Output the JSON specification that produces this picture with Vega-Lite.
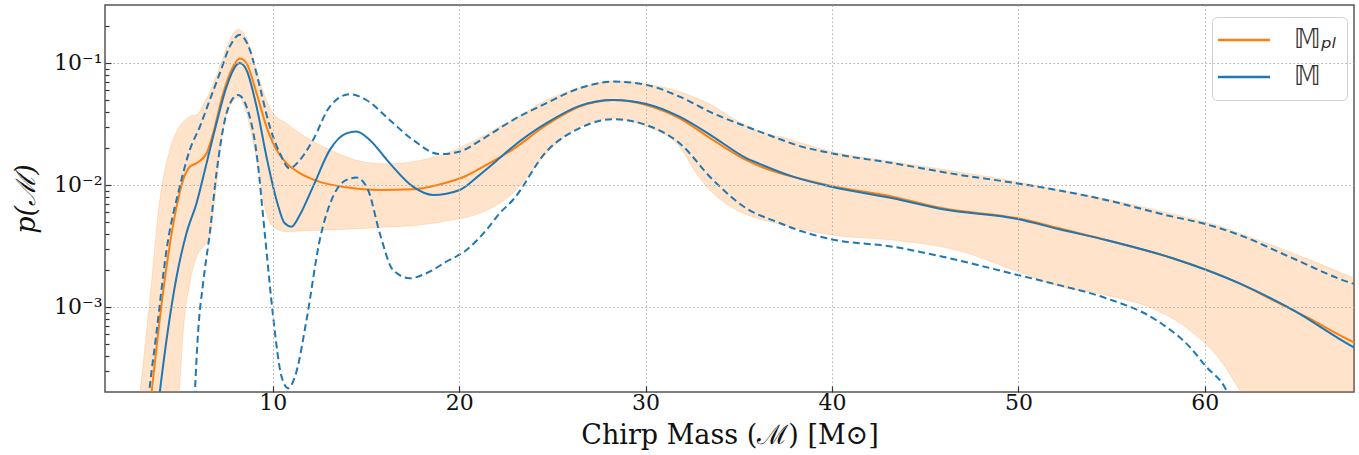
{
  "$schema": "https://vega.github.io/schema/vega-lite/v6.json",
  "width": 1249,
  "height": 387,
  "autosize": {"type": "none"},
  "padding": {"left": 105, "top": 5, "right": 5, "bottom": 63},
  "background": "white",
  "config": {
    "view": {"stroke": "#555555", "strokeWidth": 1.5},
    "font": "DejaVu Serif",
    "axis": {
      "domain": false,
      "grid": true,
      "gridColor": "#b0b0b0",
      "gridDash": [1.5, 2.5],
      "gridWidth": 1,
      "tickColor": "#333333",
      "labelFont": "DejaVu Serif",
      "labelFontSize": 22,
      "labelColor": "#111111",
      "titleFont": "DejaVu Serif",
      "titleFontWeight": "normal",
      "titleColor": "#111111"
    }
  },
  "datasets": {
    "band": [
      {"x": 2.65, "lo": 1e-5, "hi": 1.19e-4},
      {"x": 2.87, "lo": 1e-5, "hi": 2.01e-4},
      {"x": 3.40, "lo": 2e-5, "hi": 1.14e-3},
      {"x": 3.94, "lo": 4e-5, "hi": 7.53e-3},
      {"x": 4.48, "lo": 8e-5, "hi": 1.94e-2},
      {"x": 4.98, "lo": 2.01e-4, "hi": 2.99e-2},
      {"x": 5.19, "lo": 6.12e-4, "hi": 3.28e-2},
      {"x": 5.55, "lo": 1.56e-3, "hi": 3.63e-2},
      {"x": 5.99, "lo": 2.75e-3, "hi": 3.82e-2},
      {"x": 6.26, "lo": 3.12e-3, "hi": 4.53e-2},
      {"x": 6.62, "lo": 3.66e-3, "hi": 5.78e-2},
      {"x": 6.89, "lo": 7.53e-3, "hi": 7.26e-2},
      {"x": 7.25, "lo": 2.34e-2, "hi": 0.102},
      {"x": 7.69, "lo": 4.39e-2, "hi": 0.155},
      {"x": 8.19, "lo": 5.26e-2, "hi": 0.189},
      {"x": 8.59, "lo": 3.87e-2, "hi": 0.160},
      {"x": 9.13, "lo": 1.60e-2, "hi": 8.76e-2},
      {"x": 9.66, "lo": 5.86e-3, "hi": 4.97e-2},
      {"x": 10.02, "lo": 4.55e-3, "hi": 3.87e-2},
      {"x": 10.73, "lo": 4.14e-3, "hi": 3.21e-2},
      {"x": 11.45, "lo": 4.20e-3, "hi": 2.65e-2},
      {"x": 13.06, "lo": 4.28e-3, "hi": 1.94e-2},
      {"x": 14.84, "lo": 4.40e-3, "hi": 1.55e-2},
      {"x": 16.10, "lo": 4.53e-3, "hi": 1.49e-2},
      {"x": 17.52, "lo": 4.64e-3, "hi": 1.55e-2},
      {"x": 19.31, "lo": 5.07e-3, "hi": 1.82e-2},
      {"x": 21.10, "lo": 5.86e-3, "hi": 2.43e-2},
      {"x": 22.17, "lo": 7.08e-3, "hi": 3.01e-2},
      {"x": 22.88, "lo": 8.55e-3, "hi": 3.41e-2},
      {"x": 24.68, "lo": 1.82e-2, "hi": 4.97e-2},
      {"x": 26.46, "lo": 3.01e-2, "hi": 6.24e-2},
      {"x": 28.25, "lo": 3.52e-2, "hi": 7.12e-2},
      {"x": 30.04, "lo": 3.01e-2, "hi": 6.73e-2},
      {"x": 31.82, "lo": 2.06e-2, "hi": 5.82e-2},
      {"x": 32.72, "lo": 1.25e-2, "hi": 5.16e-2},
      {"x": 33.61, "lo": 8.55e-3, "hi": 4.45e-2},
      {"x": 34.68, "lo": 6.48e-3, "hi": 3.52e-2},
      {"x": 36.11, "lo": 5.26e-3, "hi": 2.74e-2},
      {"x": 37.18, "lo": 4.79e-3, "hi": 2.49e-2},
      {"x": 39.96, "lo": 3.89e-3, "hi": 1.88e-2},
      {"x": 43.26, "lo": 3.54e-3, "hi": 1.55e-2},
      {"x": 46.84, "lo": 2.88e-3, "hi": 1.28e-2},
      {"x": 49.96, "lo": 1.95e-3, "hi": 1.06e-2},
      {"x": 52.19, "lo": 1.47e-3, "hi": 9.10e-3},
      {"x": 54.70, "lo": 1.25e-3, "hi": 7.68e-3},
      {"x": 57.38, "lo": 9.45e-4, "hi": 6.24e-3},
      {"x": 59.17, "lo": 6.48e-4, "hi": 5.37e-3},
      {"x": 60.95, "lo": 3.46e-4, "hi": 4.53e-3},
      {"x": 61.86, "lo": 2.09e-4, "hi": 4.02e-3},
      {"x": 64.00, "lo": 6.7e-5, "hi": 3.05e-3},
      {"x": 68.02, "lo": 3e-5, "hi": 1.72e-3}
    ],
    "lines": [
      {"s": "𝕄ₚₗ", "x": 3.39, "y": 1.43e-4},
      {"s": "𝕄ₚₗ", "x": 3.50, "y": 2.01e-4},
      {"s": "𝕄ₚₗ", "x": 3.85, "y": 6.12e-4},
      {"s": "𝕄ₚₗ", "x": 4.30, "y": 2.14e-3},
      {"s": "𝕄ₚₗ", "x": 4.84, "y": 6.64e-3},
      {"s": "𝕄ₚₗ", "x": 5.19, "y": 1.10e-2},
      {"s": "𝕄ₚₗ", "x": 5.55, "y": 1.41e-2},
      {"s": "𝕄ₚₗ", "x": 5.91, "y": 1.51e-2},
      {"s": "𝕄ₚₗ", "x": 6.45, "y": 1.82e-2},
      {"s": "𝕄ₚₗ", "x": 6.80, "y": 2.65e-2},
      {"s": "𝕄ₚₗ", "x": 7.34, "y": 5.65e-2},
      {"s": "𝕄ₚₗ", "x": 7.87, "y": 9.33e-2},
      {"s": "𝕄ₚₗ", "x": 8.23, "y": 0.109},
      {"s": "𝕄ₚₗ", "x": 8.59, "y": 0.0995},
      {"s": "𝕄ₚₗ", "x": 9.13, "y": 5.65e-2},
      {"s": "𝕄ₚₗ", "x": 9.66, "y": 3.01e-2},
      {"s": "𝕄ₚₗ", "x": 10.20, "y": 1.94e-2},
      {"s": "𝕄ₚₗ", "x": 10.73, "y": 1.51e-2},
      {"s": "𝕄ₚₗ", "x": 11.45, "y": 1.25e-2},
      {"s": "𝕄ₚₗ", "x": 12.52, "y": 1.06e-2},
      {"s": "𝕄ₚₗ", "x": 13.95, "y": 9.57e-3},
      {"s": "𝕄ₚₗ", "x": 15.74, "y": 9.10e-3},
      {"s": "𝕄ₚₗ", "x": 17.52, "y": 9.22e-3},
      {"s": "𝕄ₚₗ", "x": 18.95, "y": 1.01e-2},
      {"s": "𝕄ₚₗ", "x": 20.39, "y": 1.19e-2},
      {"s": "𝕄ₚₗ", "x": 21.10, "y": 1.36e-2},
      {"s": "𝕄ₚₗ", "x": 22.17, "y": 1.68e-2},
      {"s": "𝕄ₚₗ", "x": 22.88, "y": 1.96e-2},
      {"s": "𝕄ₚₗ", "x": 24.68, "y": 3.10e-2},
      {"s": "𝕄ₚₗ", "x": 26.46, "y": 4.39e-2},
      {"s": "𝕄ₚₗ", "x": 28.25, "y": 4.97e-2},
      {"s": "𝕄ₚₗ", "x": 30.04, "y": 4.53e-2},
      {"s": "𝕄ₚₗ", "x": 31.82, "y": 3.52e-2},
      {"s": "𝕄ₚₗ", "x": 33.61, "y": 2.34e-2},
      {"s": "𝕄ₚₗ", "x": 35.40, "y": 1.60e-2},
      {"s": "𝕄ₚₗ", "x": 37.18, "y": 1.25e-2},
      {"s": "𝕄ₚₗ", "x": 37.88, "y": 1.17e-2},
      {"s": "𝕄ₚₗ", "x": 39.96, "y": 9.82e-3},
      {"s": "𝕄ₚₗ", "x": 43.26, "y": 8.02e-3},
      {"s": "𝕄ₚₗ", "x": 45.94, "y": 6.44e-3},
      {"s": "𝕄ₚₗ", "x": 49.96, "y": 5.33e-3},
      {"s": "𝕄ₚₗ", "x": 52.19, "y": 4.42e-3},
      {"s": "𝕄ₚₗ", "x": 54.70, "y": 3.54e-3},
      {"s": "𝕄ₚₗ", "x": 58.27, "y": 2.51e-3},
      {"s": "𝕄ₚₗ", "x": 59.88, "y": 2.07e-3},
      {"s": "𝕄ₚₗ", "x": 61.86, "y": 1.56e-3},
      {"s": "𝕄ₚₗ", "x": 64.00, "y": 1.07e-3},
      {"s": "𝕄ₚₗ", "x": 65.42, "y": 8.32e-4},
      {"s": "𝕄ₚₗ", "x": 67.92, "y": 5.20e-4},
      {"s": "𝕄ₚₗ", "x": 68.3, "y": 4.9e-4},
      {"s": "𝕄", "x": 3.82, "y": 1.43e-4},
      {"s": "𝕄", "x": 3.94, "y": 2.01e-4},
      {"s": "𝕄", "x": 4.30, "y": 5.37e-4},
      {"s": "𝕄", "x": 4.84, "y": 1.77e-3},
      {"s": "𝕄", "x": 5.37, "y": 4.02e-3},
      {"s": "𝕄", "x": 5.91, "y": 7.08e-3},
      {"s": "𝕄", "x": 6.45, "y": 1.51e-2},
      {"s": "𝕄", "x": 6.98, "y": 3.21e-2},
      {"s": "𝕄", "x": 7.52, "y": 6.40e-2},
      {"s": "𝕄", "x": 8.05, "y": 9.63e-2},
      {"s": "𝕄", "x": 8.23, "y": 0.100},
      {"s": "𝕄", "x": 8.59, "y": 8.76e-2},
      {"s": "𝕄", "x": 9.13, "y": 4.39e-2},
      {"s": "𝕄", "x": 9.66, "y": 1.71e-2},
      {"s": "𝕄", "x": 10.20, "y": 7.53e-3},
      {"s": "𝕄", "x": 10.64, "y": 4.85e-3},
      {"s": "𝕄", "x": 11.00, "y": 4.55e-3},
      {"s": "𝕄", "x": 11.45, "y": 5.68e-3},
      {"s": "𝕄", "x": 12.16, "y": 9.68e-3},
      {"s": "𝕄", "x": 13.06, "y": 1.94e-2},
      {"s": "𝕄", "x": 13.95, "y": 2.65e-2},
      {"s": "𝕄", "x": 14.49, "y": 2.74e-2},
      {"s": "𝕄", "x": 15.20, "y": 2.34e-2},
      {"s": "𝕄", "x": 16.27, "y": 1.51e-2},
      {"s": "𝕄", "x": 17.52, "y": 9.68e-3},
      {"s": "𝕄", "x": 18.60, "y": 8.28e-3},
      {"s": "𝕄", "x": 20.03, "y": 9.10e-3},
      {"s": "𝕄", "x": 21.10, "y": 1.21e-2},
      {"s": "𝕄", "x": 22.17, "y": 1.66e-2},
      {"s": "𝕄", "x": 22.88, "y": 2.06e-2},
      {"s": "𝕄", "x": 24.68, "y": 3.21e-2},
      {"s": "𝕄", "x": 26.46, "y": 4.45e-2},
      {"s": "𝕄", "x": 28.25, "y": 4.97e-2},
      {"s": "𝕄", "x": 30.04, "y": 4.61e-2},
      {"s": "𝕄", "x": 31.82, "y": 3.63e-2},
      {"s": "𝕄", "x": 33.61, "y": 2.49e-2},
      {"s": "𝕄", "x": 35.40, "y": 1.66e-2},
      {"s": "𝕄", "x": 36.11, "y": 1.49e-2},
      {"s": "𝕄", "x": 37.90, "y": 1.17e-2},
      {"s": "𝕄", "x": 39.96, "y": 9.68e-3},
      {"s": "𝕄", "x": 43.26, "y": 7.78e-3},
      {"s": "𝕄", "x": 45.94, "y": 6.32e-3},
      {"s": "𝕄", "x": 49.96, "y": 5.26e-3},
      {"s": "𝕄", "x": 52.19, "y": 4.33e-3},
      {"s": "𝕄", "x": 54.70, "y": 3.54e-3},
      {"s": "𝕄", "x": 58.27, "y": 2.51e-3},
      {"s": "𝕄", "x": 61.86, "y": 1.56e-3},
      {"s": "𝕄", "x": 64.53, "y": 9.82e-4},
      {"s": "𝕄", "x": 67.92, "y": 4.73e-4},
      {"s": "𝕄", "x": 68.3, "y": 4.4e-4}
    ],
    "dashed": [
      {"s": "upper", "x": 3.27, "y": 1.43e-4},
      {"s": "upper", "x": 3.37, "y": 2.01e-4},
      {"s": "upper", "x": 3.76, "y": 6.12e-4},
      {"s": "upper", "x": 4.30, "y": 2.93e-3},
      {"s": "upper", "x": 5.01, "y": 9.68e-3},
      {"s": "upper", "x": 5.55, "y": 1.94e-2},
      {"s": "upper", "x": 6.09, "y": 3.01e-2},
      {"s": "upper", "x": 6.62, "y": 4.97e-2},
      {"s": "upper", "x": 7.16, "y": 8.24e-2},
      {"s": "upper", "x": 7.69, "y": 0.136},
      {"s": "upper", "x": 8.23, "y": 0.170},
      {"s": "upper", "x": 8.77, "y": 0.128},
      {"s": "upper", "x": 9.30, "y": 6.40e-2},
      {"s": "upper", "x": 9.84, "y": 3.01e-2},
      {"s": "upper", "x": 10.38, "y": 1.82e-2},
      {"s": "upper", "x": 10.91, "y": 1.37e-2},
      {"s": "upper", "x": 11.45, "y": 1.60e-2},
      {"s": "upper", "x": 12.16, "y": 2.34e-2},
      {"s": "upper", "x": 13.06, "y": 4.39e-2},
      {"s": "upper", "x": 14.13, "y": 5.54e-2},
      {"s": "upper", "x": 15.02, "y": 4.97e-2},
      {"s": "upper", "x": 16.27, "y": 3.41e-2},
      {"s": "upper", "x": 17.52, "y": 2.34e-2},
      {"s": "upper", "x": 18.95, "y": 1.79e-2},
      {"s": "upper", "x": 20.03, "y": 1.88e-2},
      {"s": "upper", "x": 21.10, "y": 2.30e-2},
      {"s": "upper", "x": 22.17, "y": 2.92e-2},
      {"s": "upper", "x": 22.88, "y": 3.40e-2},
      {"s": "upper", "x": 24.68, "y": 4.68e-2},
      {"s": "upper", "x": 26.46, "y": 6.21e-2},
      {"s": "upper", "x": 28.25, "y": 7.03e-2},
      {"s": "upper", "x": 30.04, "y": 6.61e-2},
      {"s": "upper", "x": 31.82, "y": 5.30e-2},
      {"s": "upper", "x": 33.61, "y": 3.87e-2},
      {"s": "upper", "x": 35.40, "y": 3.01e-2},
      {"s": "upper", "x": 37.18, "y": 2.38e-2},
      {"s": "upper", "x": 37.90, "y": 2.17e-2},
      {"s": "upper", "x": 39.96, "y": 1.82e-2},
      {"s": "upper", "x": 43.26, "y": 1.51e-2},
      {"s": "upper", "x": 46.84, "y": 1.21e-2},
      {"s": "upper", "x": 49.96, "y": 1.03e-2},
      {"s": "upper", "x": 52.19, "y": 9.01e-3},
      {"s": "upper", "x": 54.70, "y": 7.53e-3},
      {"s": "upper", "x": 58.27, "y": 5.50e-3},
      {"s": "upper", "x": 59.88, "y": 4.85e-3},
      {"s": "upper", "x": 61.86, "y": 3.89e-3},
      {"s": "upper", "x": 64.53, "y": 2.58e-3},
      {"s": "upper", "x": 67.92, "y": 1.56e-3},
      {"s": "upper", "x": 68.3, "y": 1.5e-3},
      {"s": "lower", "x": 5.74, "y": 1.19e-4},
      {"s": "lower", "x": 5.82, "y": 2.01e-4},
      {"s": "lower", "x": 5.99, "y": 6.12e-4},
      {"s": "lower", "x": 6.26, "y": 1.56e-3},
      {"s": "lower", "x": 6.62, "y": 4.02e-3},
      {"s": "lower", "x": 6.98, "y": 1.25e-2},
      {"s": "lower", "x": 7.43, "y": 3.41e-2},
      {"s": "lower", "x": 7.87, "y": 5.14e-2},
      {"s": "lower", "x": 8.14, "y": 5.47e-2},
      {"s": "lower", "x": 8.59, "y": 4.39e-2},
      {"s": "lower", "x": 9.13, "y": 1.82e-2},
      {"s": "lower", "x": 9.57, "y": 4.02e-3},
      {"s": "lower", "x": 10.02, "y": 8.32e-4},
      {"s": "lower", "x": 10.47, "y": 2.69e-4},
      {"s": "lower", "x": 10.82, "y": 2.16e-4},
      {"s": "lower", "x": 11.27, "y": 2.95e-4},
      {"s": "lower", "x": 11.81, "y": 7.82e-4},
      {"s": "lower", "x": 12.52, "y": 3.54e-3},
      {"s": "lower", "x": 13.23, "y": 8.02e-3},
      {"s": "lower", "x": 13.95, "y": 1.10e-2},
      {"s": "lower", "x": 14.49, "y": 1.15e-2},
      {"s": "lower", "x": 15.11, "y": 9.10e-3},
      {"s": "lower", "x": 15.74, "y": 4.02e-3},
      {"s": "lower", "x": 16.45, "y": 2.01e-3},
      {"s": "lower", "x": 17.35, "y": 1.72e-3},
      {"s": "lower", "x": 18.24, "y": 1.89e-3},
      {"s": "lower", "x": 19.31, "y": 2.35e-3},
      {"s": "lower", "x": 20.39, "y": 2.93e-3},
      {"s": "lower", "x": 21.46, "y": 4.28e-3},
      {"s": "lower", "x": 22.17, "y": 5.86e-3},
      {"s": "lower", "x": 22.88, "y": 7.53e-3},
      {"s": "lower", "x": 24.68, "y": 1.88e-2},
      {"s": "lower", "x": 26.46, "y": 2.92e-2},
      {"s": "lower", "x": 28.25, "y": 3.46e-2},
      {"s": "lower", "x": 30.04, "y": 3.10e-2},
      {"s": "lower", "x": 31.82, "y": 2.20e-2},
      {"s": "lower", "x": 33.61, "y": 1.10e-2},
      {"s": "lower", "x": 35.40, "y": 6.44e-3},
      {"s": "lower", "x": 37.18, "y": 4.89e-3},
      {"s": "lower", "x": 37.90, "y": 4.42e-3},
      {"s": "lower", "x": 39.96, "y": 3.59e-3},
      {"s": "lower", "x": 43.26, "y": 3.12e-3},
      {"s": "lower", "x": 45.94, "y": 2.58e-3},
      {"s": "lower", "x": 49.96, "y": 1.83e-3},
      {"s": "lower", "x": 52.19, "y": 1.51e-3},
      {"s": "lower", "x": 54.70, "y": 1.18e-3},
      {"s": "lower", "x": 57.38, "y": 7.82e-4},
      {"s": "lower", "x": 59.17, "y": 4.73e-4},
      {"s": "lower", "x": 60.07, "y": 3.24e-4},
      {"s": "lower", "x": 61.14, "y": 2.09e-4},
      {"s": "lower", "x": 61.59, "y": 1.43e-4}
    ]
  },
  "layer": [
    {
      "data": {"name": "band"},
      "mark": {"type": "area", "clip": true, "color": "#ff7f0e", "fillOpacity": 0.22, "stroke": "#ff7f0e", "strokeOpacity": 0.18, "strokeWidth": 1, "interpolate": "monotone"},
      "encoding": {
        "x": {
          "field": "x", "type": "quantitative",
          "scale": {"domain": [1, 68], "nice": false, "zero": false},
          "axis": {
            "values": [10, 20, 30, 40, 50, 60],
            "title": "Chirp Mass (ℳ) [M⊙]",
            "titleFontSize": 27,
            "titlePadding": 9,
            "labelPadding": 6,
            "tickSize": -6,
            "tickWidth": 1.2,
            "zindex": 1
          }
        },
        "y": {
          "field": "lo", "type": "quantitative",
          "scale": {"type": "log", "domain": [0.000201, 0.2985], "nice": false},
          "axis": {
            "values": [0.0003, 0.0004, 0.0005, 0.0006, 0.0007, 0.0008, 0.0009, 0.001, 0.002, 0.003, 0.004, 0.005, 0.006, 0.007, 0.008, 0.009, 0.01, 0.02, 0.03, 0.04, 0.05, 0.06, 0.07, 0.08, 0.09, 0.1, 0.2],
            "labelExpr": "abs(datum.value-0.1)<1e-9 ? '10⁻¹' : abs(datum.value-0.01)<1e-10 ? '10⁻²' : abs(datum.value-0.001)<1e-11 ? '10⁻³' : ''",
            "labelOverlap": false,
            "labelPadding": 9,
            "title": "p(ℳ)",
            "titleFontSize": 27,
            "titleFontStyle": "italic",
            "titlePadding": 13,
            "gridOpacity": {"condition": {"test": "abs(log(datum.value)/LN10 - round(log(datum.value)/LN10)) < 1e-6", "value": 1}, "value": 0},
            "tickSize": {"condition": {"test": "abs(log(datum.value)/LN10 - round(log(datum.value)/LN10)) < 1e-6", "value": -6}, "value": -4},
            "tickWidth": 1.2,
            "zindex": 1
          }
        },
        "y2": {"field": "hi"}
      }
    },
    {
      "data": {"name": "lines"},
      "mark": {"type": "line", "clip": true, "strokeWidth": 2, "interpolate": "monotone"},
      "encoding": {
        "x": {"field": "x", "type": "quantitative"},
        "y": {"field": "y", "type": "quantitative"},
        "order": {"field": "x", "type": "quantitative"},
        "color": {
          "field": "s", "type": "nominal",
          "scale": {"domain": ["𝕄ₚₗ", "𝕄"], "range": ["#ff7f0e", "#1f77b4"]},
          "legend": {
            "orient": "none",
            "legendX": 1107,
            "legendY": 12,
            "title": null,
            "symbolType": "M-1.7,0H3.5",
            "symbolSize": 400,
            "symbolStrokeWidth": 2.5,
            "symbolFillColor": "transparent",
            "labelFont": "DejaVu Sans",
            "labelFontSize": 26,
            "labelFontStyle": "italic",
            "labelColor": "#333333",
            "labelOffset": 46,
            "fillColor": "white",
            "strokeColor": "#d0d0d0",
            "cornerRadius": 5,
            "padding": 10,
            "rowPadding": 11
          }
        }
      }
    },
    {
      "data": {"name": "dashed"},
      "mark": {"type": "line", "clip": true, "strokeWidth": 2, "strokeDash": [7, 4], "color": "#1f77b4", "interpolate": "monotone"},
      "encoding": {
        "x": {"field": "x", "type": "quantitative"},
        "y": {"field": "y", "type": "quantitative"},
        "detail": {"field": "s", "type": "nominal"},
        "order": {"field": "x", "type": "quantitative"}
      }
    }
  ]
}
